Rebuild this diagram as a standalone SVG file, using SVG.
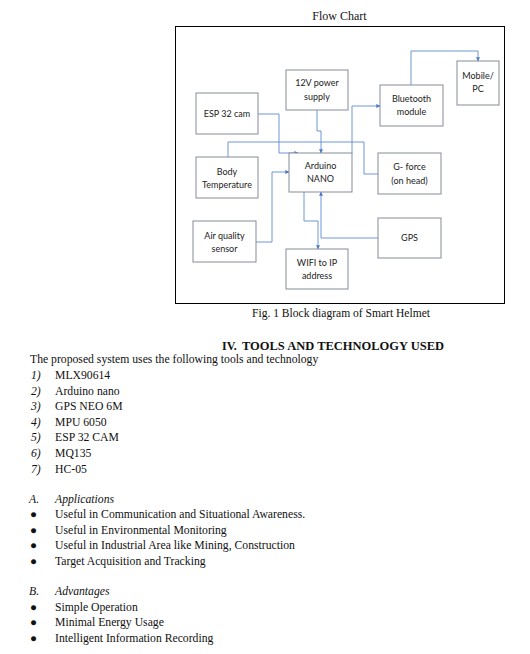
<svg xmlns="http://www.w3.org/2000/svg" width="530" height="654" viewBox="0 0 530 654">
<defs>
<marker id="ah" viewBox="0 0 6 6" refX="5.5" refY="3" markerWidth="4" markerHeight="4" orient="auto" markerUnits="userSpaceOnUse">
<path d="M0,0 L6,3 L0,6 z" fill="#4a78cc"/>
</marker>
<style>
.box{fill:#fff;stroke:#858c99;stroke-width:1}
.nt{font-family:Lato,"Open Sans",sans-serif;font-size:9px;fill:#222;text-anchor:middle}
.cn{fill:none;stroke:#5f8ad6;stroke-width:0.9}
.tx{font-family:"Liberation Serif","Times New Roman",serif;font-size:11.7px;fill:#111}
.it{font-style:italic}
.bd{font-weight:bold}
</style>
</defs>
<rect width="530" height="654" fill="#fff"/>
<text class="tx" x="339.5" y="20" text-anchor="middle" style="font-size:12px">Flow Chart</text>
<rect x="175.5" y="26.5" width="329" height="277" fill="none" stroke="#000" stroke-width="1"/>

<g id="connectors">
<path class="cn" d="M411,85 V51 H478 V61" marker-end="url(#ah)"/>
<path class="cn" d="M352,153 V106 H380" marker-end="url(#ah)"/>
<path class="cn" d="M317,110 V131 H321 V153" marker-end="url(#ah)"/>
<path class="cn" d="M258,114 H279 V153 H298" marker-end="url(#ah)"/>
<path class="cn" d="M228,157 V142 H364 V174 H378"/>
<path class="cn" d="M256,242 H272 V172 H289" marker-end="url(#ah)"/>
<path class="cn" d="M378,238 H321 V192" marker-end="url(#ah)"/>
<path class="cn" d="M304,192 V221 H318 V249" marker-end="url(#ah)"/>
</g>

<g id="mobile"><rect class="box" x="457" y="61" width="42" height="44"/><text class="nt" x="478" y="79">Mobile/</text><text class="nt" x="478" y="92">PC</text></g>
<g id="power"><rect class="box" x="286" y="70" width="62" height="40"/><text class="nt" x="317" y="86">12V power</text><text class="nt" x="317" y="100">supply</text></g>
<g id="bluetooth"><rect class="box" x="380" y="85" width="63" height="41"/><text class="nt" x="411.5" y="102">Bluetooth</text><text class="nt" x="411.5" y="115">module</text></g>
<g id="esp"><rect class="box" x="196" y="93" width="62" height="41"/><text class="nt" x="227" y="117">ESP 32 cam</text></g>
<g id="arduino"><rect class="box" x="289" y="153" width="63" height="39"/><text class="nt" x="320.5" y="169">Arduino</text><text class="nt" x="320.5" y="182">NANO</text></g>
<g id="bodytemp"><rect class="box" x="196" y="157" width="62" height="41"/><text class="nt" x="227" y="175">Body</text><text class="nt" x="227" y="188">Temperature</text></g>
<g id="gforce"><rect class="box" x="378" y="153" width="63" height="41"/><text class="nt" x="409.5" y="170">G- force</text><text class="nt" x="409.5" y="184">(on head)</text></g>
<g id="airquality"><rect class="box" x="193" y="221" width="63" height="41"/><text class="nt" x="224.5" y="239">Air quality</text><text class="nt" x="224.5" y="252">sensor</text></g>
<g id="gps"><rect class="box" x="378" y="218" width="63" height="40"/><text class="nt" x="409.5" y="241">GPS</text></g>
<g id="wifi"><rect class="box" x="286" y="249" width="62" height="40"/><text class="nt" x="317" y="266">WIFI to IP</text><text class="nt" x="317" y="279">address</text></g>

<text class="tx" x="252" y="317" textLength="178" lengthAdjust="spacingAndGlyphs">Fig. 1 Block diagram of Smart Helmet</text>
<text class="tx bd" x="222" y="350" style="font-size:12px">IV.</text>
<text class="tx bd" x="242" y="350" style="font-size:12px" textLength="202" lengthAdjust="spacingAndGlyphs">TOOLS AND TECHNOLOGY USED</text>
<text class="tx" x="30" y="363">The proposed system uses the following tools and technology</text>

<g class="tx">
<text class="it" x="31" y="379">1)</text><text x="55" y="379">MLX90614</text>
<text class="it" x="31" y="394.6">2)</text><text x="55" y="394.6">Arduino nano</text>
<text class="it" x="31" y="410.2">3)</text><text x="55" y="410.2">GPS NEO 6M</text>
<text class="it" x="31" y="425.8">4)</text><text x="55" y="425.8">MPU 6050</text>
<text class="it" x="31" y="441.4">5)</text><text x="55" y="441.4">ESP 32 CAM</text>
<text class="it" x="31" y="457">6)</text><text x="55" y="457">MQ135</text>
<text class="it" x="31" y="472.6">7)</text><text x="55" y="472.6">HC-05</text>

<text class="it" x="29" y="503">A.</text><text class="it" x="55" y="503">Applications</text>
<text x="30" y="518">●</text><text x="55" y="518">Useful in Communication and Situational Awareness.</text>
<text x="30" y="533.6">●</text><text x="55" y="533.6">Useful in Environmental Monitoring</text>
<text x="30" y="549.2">●</text><text x="55" y="549.2">Useful in Industrial Area like Mining, Construction</text>
<text x="30" y="564.8">●</text><text x="55" y="564.8">Target Acquisition and Tracking</text>

<text class="it" x="29" y="595">B.</text><text class="it" x="55" y="595">Advantages</text>
<text x="30" y="610.6">●</text><text x="55" y="610.6">Simple Operation</text>
<text x="30" y="626.2">●</text><text x="55" y="626.2">Minimal Energy Usage</text>
<text x="30" y="641.8">●</text><text x="55" y="641.8">Intelligent Information Recording</text>
</g>
</svg>
